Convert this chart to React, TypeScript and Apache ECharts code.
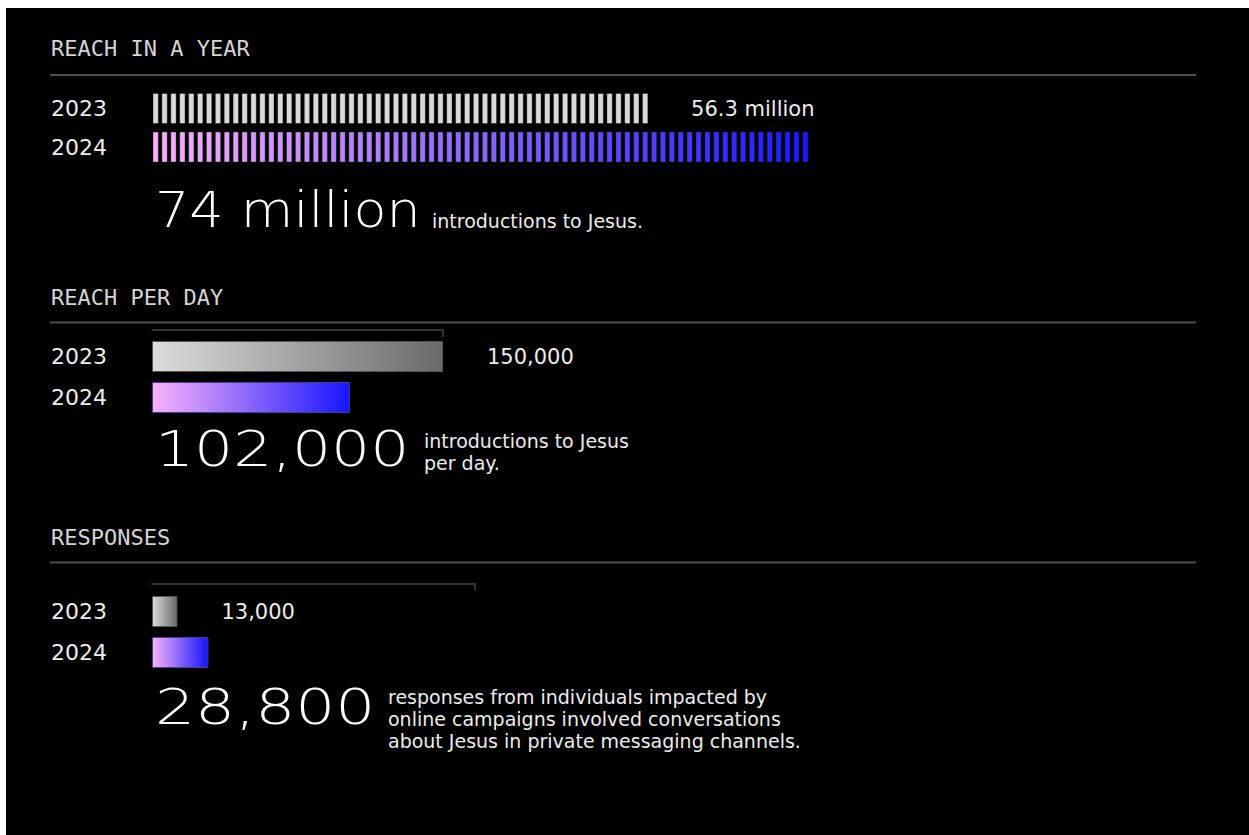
import React, { useEffect, useRef } from "react";
import * as echarts from "echarts";

const years = ["2023", "2024"];
const reachYearMillions = [56.3, 74];
const reachPerDay = [150000, 102000];
const responses = [13000, 28800];
const sectionTitles = ["REACH IN A YEAR", "REACH PER DAY", "RESPONSES"];
const headlineNumbers = ["74 million", "102,000", "28,800"];
const headlineTexts = [
  "introductions to Jesus.",
  "introductions to Jesus\nper day.",
  "responses from individuals impacted by\nonline campaigns involved conversations\nabout Jesus in private messaging channels.",
];

const OX = 6;
const OY = 8;
const SANS = "'DejaVu Sans', sans-serif";
const MONO = "'DejaVu Sans Mono', monospace";
const PINK = [249, 176, 249];
const BLUE = [26, 26, 255];

function mix(t: number) {
  const c = PINK.map((p, k) => Math.round(p + (BLUE[k] - p) * t));
  return `rgb(${c[0]},${c[1]},${c[2]})`;
}

const grayGrad = () =>
  new echarts.graphic.LinearGradient(0, 0, 1, 0, [
    { offset: 0, color: "#dcdcdc" },
    { offset: 1, color: "#6a6a6a" },
  ]);
const colorGrad = () =>
  new echarts.graphic.LinearGradient(0, 0, 1, 0, [
    { offset: 0, color: "#f9b2f9" },
    { offset: 1, color: "#1616ff" },
  ]);

export default function App() {
  const ref = useRef<HTMLDivElement>(null);
  useEffect(() => {
    if (!ref.current) return;
    const chart = echarts.init(ref.current, null, { renderer: "svg" });

    const yAxisCommon = (gridIndex: number, margin: number) => ({
      gridIndex,
      type: "category",
      inverse: true,
      data: years,
      axisLine: { show: false },
      axisTick: { show: false },
      splitLine: { show: false },
      axisLabel: {
        align: "left",
        margin,
        color: "#ececec",
        fontSize: 22,
        fontFamily: SANS,
      },
    });

    const labelStyle = (distance: number, fmt: (v: number) => string) => ({
      show: true,
      position: "right",
      distance,
      color: "#ececec",
      fontSize: 21,
      fontFamily: SANS,
      formatter: (p: any) => fmt(p.value),
    });

    const titleEls = sectionTitles.map((t, i) => ({
      type: "text",
      x: 51 - OX,
      y: [48, 297, 537][i] - OY,
      style: {
        text: t,
        fill: "#d4d4d4",
        fontSize: 22,
        fontFamily: MONO,
        verticalAlign: "middle",
      },
    }));
    const lineEls = [75, 322.5, 562.5].map((y) => ({
      type: "line",
      shape: { x1: 50 - OX, y1: y - OY, x2: 1196 - OX, y2: y - OY },
      style: { stroke: "#4d4d4d", lineWidth: 2 },
    }));
    const bigPos = [
      { x: 155, y: 210, sx: 1.08, tx: 432, ty: 221 },
      { x: 155, y: 449, sx: 1.23, tx: 424, ty: 452 },
      { x: 155, y: 706, sx: 1.26, tx: 388, ty: 719 },
    ];
    const bigEls = headlineNumbers.map((t, i) => ({
      type: "text",
      x: bigPos[i].x - OX,
      y: bigPos[i].y - OY,
      scaleX: bigPos[i].sx,
      style: {
        text: t,
        fill: "#ffffff",
        fontSize: 50,
        fontWeight: 200,
        fontFamily: SANS,
        verticalAlign: "middle",
      },
    }));
    const descEls = headlineTexts.map((t, i) => ({
      type: "text",
      x: bigPos[i].tx - OX,
      y: bigPos[i].ty - OY,
      style: {
        text: t,
        fill: "#ececec",
        fontSize: 19,
        lineHeight: 22,
        fontFamily: SANS,
        verticalAlign: "middle",
      },
    }));

    const option: any = {
      animation: false,
      backgroundColor: "#000000",
      grid: [
        { left: 153 - OX, top: 89.25 - OY, width: 890, height: 77 },
        { left: 152 - OX, top: 336 - OY, width: 291, height: 82 },
        { left: 152 - OX, top: 591 - OY, width: 323, height: 82 },
      ],
      xAxis: [
        { gridIndex: 0, type: "value", min: 0, max: 100, show: false },
        {
          gridIndex: 1,
          type: "value",
          min: 0,
          max: 150000,
          position: "top",
          offset: 6,
          axisLine: { show: true, lineStyle: { color: "#454545", width: 1.5 } },
          axisTick: {
            show: true,
            inside: true,
            length: 7,
            customValues: [150000],
            lineStyle: { color: "#454545", width: 1.5 },
          },
          axisLabel: { show: false },
          splitLine: { show: false },
        },
        {
          gridIndex: 2,
          type: "value",
          min: 0,
          max: 165000,
          position: "top",
          offset: 7.5,
          axisLine: { show: true, lineStyle: { color: "#454545", width: 1.5 } },
          axisTick: {
            show: true,
            inside: true,
            length: 7,
            customValues: [165000],
            lineStyle: { color: "#454545", width: 1.5 },
          },
          axisLabel: { show: false },
          splitLine: { show: false },
        },
      ],
      yAxis: [yAxisCommon(0, 102), yAxisCommon(1, 101), yAxisCommon(2, 101)],
      series: [
        {
          type: "custom",
          xAxisIndex: 0,
          yAxisIndex: 0,
          encode: { x: 0, y: 1 },
          data: reachYearMillions.map((v, i) => [v, i]),
          renderItem: (params: any, api: any) => {
            const v = api.value(0);
            const c = api.value(1);
            const n = Math.round(v);
            const start = api.coord([0, c]);
            const unit = api.size([1, 0])[0];
            const h = 30;
            const children: any[] = [];
            for (let i = 0; i < n; i++) {
              children.push({
                type: "rect",
                shape: {
                  x: start[0] + i * unit,
                  y: start[1] - h / 2,
                  width: unit * 0.6,
                  height: h,
                },
                style: {
                  fill: c === 0 ? "#d9d9d9" : mix(i / Math.max(1, n - 1)),
                  stroke: "rgba(0,0,0,0.35)",
                  lineWidth: 1,
                },
              });
            }
            return { type: "group", children };
          },
        },
        {
          type: "bar",
          xAxisIndex: 0,
          yAxisIndex: 0,
          barWidth: 30,
          silent: true,
          itemStyle: { color: "rgba(0,0,0,0)" },
          data: reachYearMillions.map((v, i) => ({
            value: v,
            label: i === 0 ? labelStyle(37, (x) => `${x} million`) : { show: false },
          })),
        },
        {
          type: "bar",
          xAxisIndex: 1,
          yAxisIndex: 1,
          barWidth: 31,
          data: reachPerDay.map((v, i) => ({
            value: v,
            itemStyle: {
              color: i === 0 ? grayGrad() : colorGrad(),
              borderColor: i === 0 ? "#555555" : "#4a3a9a",
              borderWidth: 1,
            },
            label:
              i === 0
                ? labelStyle(44, (x) => x.toLocaleString("en-US"))
                : { show: false },
          })),
        },
        {
          type: "bar",
          xAxisIndex: 2,
          yAxisIndex: 2,
          barWidth: 31,
          data: responses.map((v, i) => ({
            value: v,
            itemStyle: {
              color: i === 0 ? grayGrad() : colorGrad(),
              borderColor: i === 0 ? "#555555" : "#4a3a9a",
              borderWidth: 1,
            },
            label:
              i === 0
                ? labelStyle(44, (x) => x.toLocaleString("en-US"))
                : { show: false },
          })),
        },
      ],
      graphic: [...lineEls, ...titleEls, ...bigEls, ...descEls],
    };
    chart.setOption(option);
    return () => chart.dispose();
  }, []);

  return (
    <div
      ref={ref}
      style={{ position: "fixed", left: OX, top: OY, width: 1249 - OX, height: 835 - OY }}
    />
  );
}
